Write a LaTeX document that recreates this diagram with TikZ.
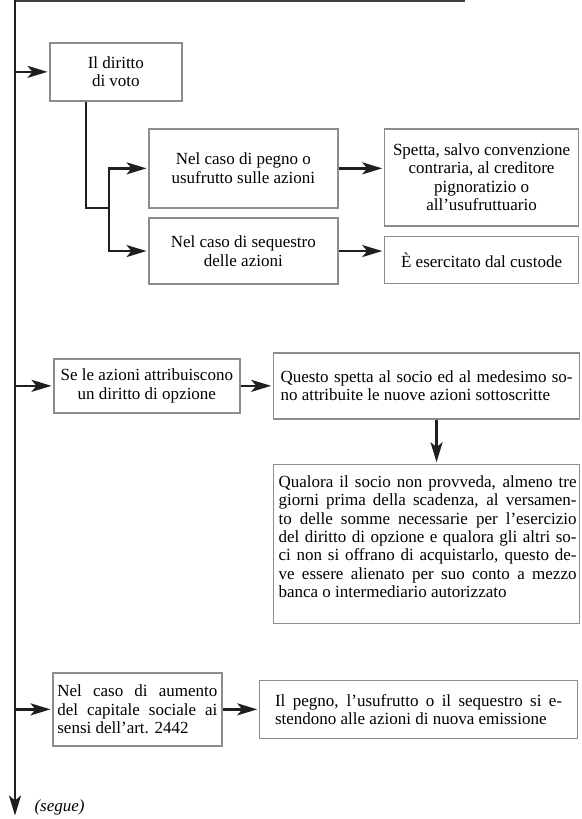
\documentclass[tikz,border=0pt]{standalone}
\usepackage{fontspec}
\setmainfont{Liberation Serif}
\usetikzlibrary{arrows.meta,positioning,calc}

\begin{document}
\begin{tikzpicture}[
    x=1pt, y=-1pt,
    font=\fontsize{17}{18.4}\selectfont,
    >={Stealth[length=20pt,width=12pt,inset=5pt]},
    box/.style={
        rectangle, draw=black!45, line width=1.7pt,
        align=center, inner sep=3pt, anchor=north west
    },
    jbox/.style={
        box, align=justify,
        execute at begin node={\tolerance=10000\hyphenpenalty=10000}
    },
    line/.style={draw=black!88, line width=2.4pt},
    arrow/.style={line, ->, shorten >=1.5pt},
]
  \useasboundingbox (0,0) rectangle (581,819);

  %––– Main spine ––––––––––––––––––––––––––––––––––––––––––––
  \coordinate (top) at (15,0);
  \coordinate (bottom) at (15,817);
  \coordinate (rule) at (465,1);

  %––– Voting rights ––––––––––––––––––––––––––––––––––––––––
  \node (voto) [box, minimum width=132pt, minimum height=58pt] at (49,42) {Il diritto\\di voto};

  \node (pegno) [box, minimum width=189pt, minimum height=79pt] at (148,128) {
      Nel caso di pegno o\\usufrutto sulle azioni};
  \node (sequestro) [box, minimum width=189pt, minimum height=66pt,
      below=8.5pt of pegno.south west, anchor=north west] {
      Nel caso di sequestro\\delle azioni};

  \node (spetta) [box, minimum width=194pt, minimum height=97pt,
      right=45pt of pegno.north east, anchor=north west] {
      Spetta, salvo convenzione\\contraria, al creditore\\pignoratizio o\\all’usufruttuario};
  \node (custode) [box, minimum width=194pt, minimum height=47pt,
      below=9pt of spetta.south west, anchor=north west] {È esercitato dal custode};

  \coordinate (split) at (109,208);

  %––– Option rights ––––––––––––––––––––––––––––––––––––––––
  \node (opzione) [box, minimum width=186pt, minimum height=54pt] at (53,358) {
      Se le azioni attribuiscono\\un diritto di opzione};

  \node (questo) [jbox, text width=292pt, inner xsep=7pt, minimum height=66pt,
      right=32pt of opzione] {\parfillskip=0pt
      Questo spetta al socio ed al medesimo so-\linebreak
      no attribuite le nuove azioni sottoscritte};

  \node (qualora) [box, minimum width=306pt, minimum height=159pt,
      below=44pt of questo.south west, anchor=north west] {};
  \node (qualoratext) [jbox, draw=none, text width=298pt, inner sep=0pt]
      at ([shift={(5pt,-11pt)}]qualora.north west) {
      Qualora il socio non provveda, almeno tre \linebreak
      giorni prima della scadenza, al versamen-\linebreak
      to delle somme necessarie per l’esercizio \linebreak
      del diritto di opzione e qualora gli altri so-\linebreak
      ci non si offrano di acquistarlo, questo de-\linebreak
      ve essere alienato per suo conto a mezzo \linebreak
      banca o intermediario autorizzato};

  %––– Capital increase –––––––––––––––––––––––––––––––––––––
  \node (aumento) [jbox, text width=160pt, inner xsep=4.5pt, minimum height=73pt] at (52,672) {
      Nel caso di aumento \linebreak
      del capitale sociale ai \linebreak
      sensi dell’art. 2442};

  \node (estendono) [jbox, text width=287pt, inner xsep=15.5pt, minimum height=58pt,
      right=36pt of aumento] {\parfillskip=0pt
      Il pegno, l’usufrutto o il sequestro si e-\linebreak
      stendono alle azioni di nuova emissione};

  \node (segue) [anchor=west, font=\fontsize{17}{18}\selectfont\itshape] at (31,807) {(segue)};

  %––– Arrows –––––––––––––––––––––––––––––––––––––––––––––––
  \draw[line, line width=1.4pt, draw=black!75] (top |- rule) -- (rule);
  \draw[arrow] (top) -- (bottom);

  \draw[arrow] (voto.west -| top) -- (voto.west);
  \draw[line] ([xshift=37pt]voto.south west) |- (split);
  \draw[arrow] (split) |- (pegno.west);
  \draw[arrow] (split) |- (sequestro.west);
  \draw[arrow] (pegno.east) -- (pegno.east -| spetta.west);
  \draw[arrow] (sequestro.east) -- (sequestro.east -| custode.west);

  \draw[arrow] (opzione.west -| top) -- (opzione.west);
  \draw[arrow] (opzione.east) -- (opzione.east -| questo.west);
  \draw[arrow] ([xshift=10pt]questo.south) -- ([xshift=10pt]qualora.north);

  \draw[arrow] (aumento.west -| top) -- (aumento.west);
  \draw[arrow] (aumento.east) -- (aumento.east -| estendono.west);
\end{tikzpicture}
\end{document}
